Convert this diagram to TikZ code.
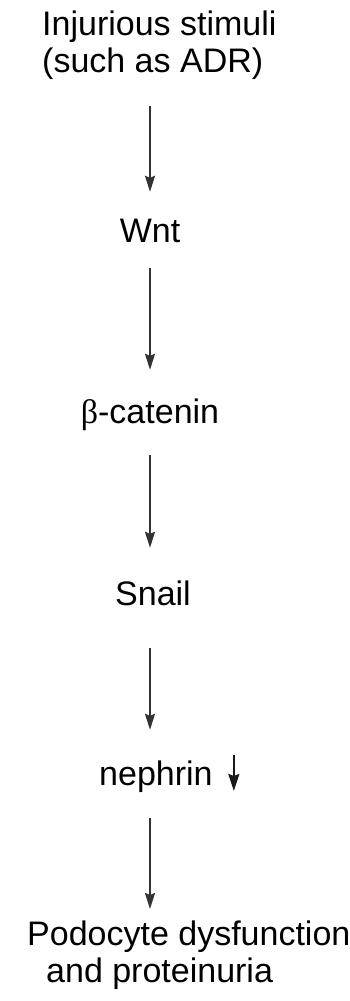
\documentclass[tikz,border=0pt]{standalone}
\usepackage{fontspec}
\setmainfont{Liberation Sans}
\newfontfamily\betafont{Liberation Serif}
\usetikzlibrary{arrows.meta}

\begin{document}
\begin{tikzpicture}[
    x=1pt, y=-1pt,
    lbl/.style={inner sep=0pt, font=\fontsize{34}{37}\selectfont, text height=23pt, text depth=7pt},
    blk/.style={inner sep=0pt, font=\fontsize{34}{37}\selectfont, align=left},
    arr/.style={-{Stealth[length=16pt, width=10pt, inset=2pt]}, line width=2pt, draw=black!80},
    down/.style={-{Stealth[length=17pt, width=11pt, inset=2pt]}, line width=2.2pt, draw=black!90}
]
    \useasboundingbox (0,0) rectangle (350,1001);

    % Nodes
    \node[blk, anchor=north west] (stim) at (42,11) {Injurious stimuli\\(such as ADR)};
    \node[lbl, anchor=base] (wnt) at (150,242) {Wnt};
    \node[lbl, anchor=base] (cat) at (150,423) {{\betafont β}-catenin};
    \node[lbl, anchor=base] (snail) at (153,605) {Snail};
    \node[lbl, anchor=base west] (neph) at (99,785) {nephrin};
    \node[blk, anchor=north west] (pod) at (27,921) {Podocyte dysfunction\\\hspace*{19pt}and proteinuria};

    % nephrin decrease
    \path (neph.base east) ++(21,-30) coordinate (dtop) ++(0,36) coordinate (dbot);
    \draw[down] (dtop) -- (dbot);

    % Arrows
    \draw[arr, shorten <=26pt, shorten >=27pt] (stim.south -| wnt) -- (wnt.north);
    \draw[arr, shorten <=19pt, shorten >=30pt] (wnt.south) -- (wnt |- cat.north);
    \draw[arr, shorten <=25pt, shorten >=34pt] (wnt |- cat.south) -- (wnt |- snail.north);
    \draw[arr, shorten <=36pt, shorten >=32pt] (wnt |- snail.south) -- (wnt |- neph.north);
    \draw[arr, shorten <=26pt, shorten >=12pt] (wnt |- neph.south) -- (wnt |- pod.north);
\end{tikzpicture}
\end{document}
